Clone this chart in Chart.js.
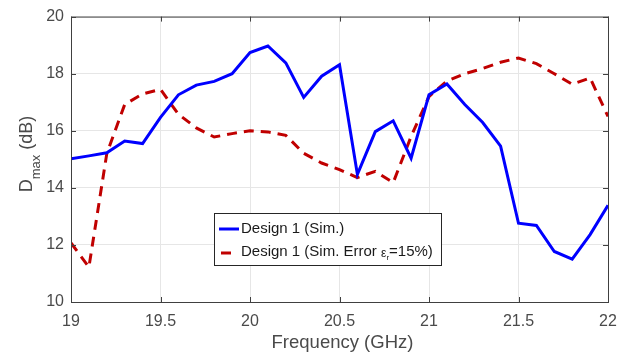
<!DOCTYPE html>
<html>
<head>
<meta charset="utf-8">
<script src="https://cdn.jsdelivr.net/npm/chart.js@4.4.1/dist/chart.umd.min.js"></script>
<style>
  html, body { margin: 0; padding: 0; background: #fff; }
  #wrap { width: 639px; height: 356px; position: relative; }
</style>
</head>
<body>
<div id="wrap"><canvas id="chart"></canvas></div>
<script>
// Frequency sweep (GHz) and max directivity (dB)
const freqs = [19.0, 19.1, 19.2, 19.3, 19.4, 19.5, 19.6, 19.7, 19.8, 19.9,
  20.0, 20.1, 20.2, 20.3, 20.4, 20.5, 20.6, 20.7, 20.8, 20.9,
  21.0, 21.1, 21.2, 21.3, 21.4, 21.5, 21.6, 21.7, 21.8, 21.9, 22.0];
const simDesign1 = [15.02, 15.12, 15.23, 15.64, 15.55, 16.47, 17.26, 17.6, 17.73, 18.0,
  18.74, 18.97, 18.38, 17.17, 17.91, 18.31, 14.47, 15.97, 16.35, 15.04,
  17.26, 17.64, 16.92, 16.29, 15.46, 12.76, 12.68, 11.77, 11.5, 12.36, 13.39];
const simError15 = [12.07, 11.22, 15.2, 16.92, 17.29, 17.45, 16.58, 16.1, 15.78, 15.9,
  16.0, 15.96, 15.84, 15.21, 14.87, 14.64, 14.36, 14.58, 14.18, 15.8,
  17.2, 17.74, 18.0, 18.18, 18.4, 18.55, 18.35, 18.0, 17.63, 17.85, 16.5];
const xTicks = [19, 19.5, 20, 20.5, 21, 21.5, 22];
const yTicks = [10, 12, 14, 16, 18, 20];
const seriesNames = ['Design 1 (Sim.)', 'Design 1 (Sim. Error '];

const FONT = '"Liberation Sans", Arial, Helvetica, sans-serif';
const TEXT = '#4a4a4a';
const AXIS = '#404040';

const toPoints = vals => vals.map((v, i) => ({ x: freqs[i], y: v }));

// MATLAB-style box with inward ticks, axis titles and in-plot legend
const matlabFrame = {
  id: 'matlabFrame',
  afterDatasetsDraw(chart) {
    const { ctx, chartArea: a, scales: { x, y } } = chart;
    ctx.save();
    ctx.strokeStyle = AXIS;
    ctx.lineWidth = 1;
    ctx.strokeRect(a.left + 0.5, a.top + 0.5, a.right - a.left, a.bottom - a.top);
    ctx.beginPath();
    xTicks.forEach(t => {
      const px = Math.round(x.getPixelForValue(t)) + 0.5;
      ctx.moveTo(px, a.bottom); ctx.lineTo(px, a.bottom - 5);
      ctx.moveTo(px, a.top); ctx.lineTo(px, a.top + 5);
    });
    yTicks.forEach(t => {
      const py = Math.round(y.getPixelForValue(t)) + 0.5;
      ctx.moveTo(a.left, py); ctx.lineTo(a.left + 5, py);
      ctx.moveTo(a.right, py); ctx.lineTo(a.right - 5, py);
    });
    ctx.stroke();

    // axis titles
    ctx.fillStyle = TEXT;
    ctx.font = `18.5px ${FONT}`;
    ctx.textAlign = 'center';
    ctx.textBaseline = 'middle';
    ctx.fillText('Frequency (GHz)', (a.left + a.right) / 2 + 3, 343);

    ctx.save();
    ctx.translate(25, 154);
    ctx.rotate(-Math.PI / 2);
    ctx.textAlign = 'left';
    ctx.textBaseline = 'alphabetic';
    const big = `18px ${FONT}`, small = `13px ${FONT}`;
    ctx.font = big; const wD = ctx.measureText('D').width;
    ctx.font = small; const wM = ctx.measureText('max').width;
    ctx.font = big; const wU = ctx.measureText(' (dB)').width;
    let sx = -(wD + wM + wU) / 2;
    ctx.font = big; ctx.fillText('D', sx, 7); sx += wD;
    ctx.font = small; ctx.fillText('max', sx, 15); sx += wM;
    ctx.font = big; ctx.fillText(' (dB)', sx, 7);
    ctx.restore();

    // legend
    const lx = 214, ly = 213, lw = 227, lh = 52;
    ctx.fillStyle = '#fff';
    ctx.fillRect(lx, ly, lw, lh);
    ctx.strokeStyle = '#262626';
    ctx.strokeRect(lx + 0.5, ly + 0.5, lw, lh);
    const ds = chart.data.datasets;
    ctx.lineWidth = 3;
    ctx.strokeStyle = ds[0].borderColor;
    ctx.setLineDash([]);
    ctx.beginPath(); ctx.moveTo(219, 229); ctx.lineTo(239, 229); ctx.stroke();
    ctx.strokeStyle = ds[1].borderColor;
    ctx.beginPath(); ctx.moveTo(221, 253); ctx.lineTo(231, 253); ctx.stroke();

    ctx.fillStyle = '#1a1a1a';
    ctx.font = `15px ${FONT}`;
    ctx.textAlign = 'left';
    ctx.textBaseline = 'middle';
    ctx.fillText(seriesNames[0], 241, 229);
    let tx = 241;
    ctx.fillText(seriesNames[1], tx, 252);
    tx += ctx.measureText(seriesNames[1]).width;
    ctx.font = `12px ${FONT}`;
    ctx.fillText('\u03b5', tx, 254);
    tx += ctx.measureText('\u03b5').width;
    ctx.font = `8px ${FONT}`;
    ctx.fillText('r', tx, 258);
    tx += ctx.measureText('r').width;
    ctx.font = `15px ${FONT}`;
    ctx.fillText('=15%)', tx, 252);
    ctx.restore();
  }
};

new Chart(document.getElementById('chart'), {
  type: 'line',
  data: {
    datasets: [{
      label: seriesNames[0],
      data: toPoints(simDesign1),
      borderColor: '#0000ff',
      borderWidth: 3,
      pointRadius: 0,
      tension: 0,
      fill: false,
    }, {
      label: seriesNames[1] + 'εr=15%)',
      data: toPoints(simError15),
      borderColor: '#c00000',
      borderWidth: 3,
      borderDash: [10, 7],
      pointRadius: 0,
      tension: 0,
      fill: false,
    }],
  },
  options: {
    responsive: true,
    maintainAspectRatio: false,
    animation: false,
    layout: { padding: { top: 10, right: 31, left: 0, bottom: 0 } },
    plugins: { legend: { display: false }, tooltip: { enabled: false } },
    scales: {
      x: {
        type: 'linear', min: 19, max: 22,
        afterBuildTicks: s => { s.ticks = xTicks.map(v => ({ value: v })); },
        afterFit: s => { s.height = 54; },
        grid: { color: '#e6e6e6', drawTicks: false },
        border: { display: false },
        ticks: { color: TEXT, font: { family: FONT, size: 16 }, padding: 10, maxRotation: 0,
          callback: v => String(v) },
      },
      y: {
        min: 10, max: 20,
        afterBuildTicks: s => { s.ticks = yTicks.map(v => ({ value: v })); },
        afterFit: s => { s.width = 71; },
        grid: { color: '#e6e6e6', drawTicks: false },
        border: { display: false },
        ticks: { color: TEXT, font: { family: FONT, size: 16 }, padding: 7,
          callback: v => String(v) },
      },
    },
  },
  plugins: [matlabFrame],
});
</script>
</body>
</html>
